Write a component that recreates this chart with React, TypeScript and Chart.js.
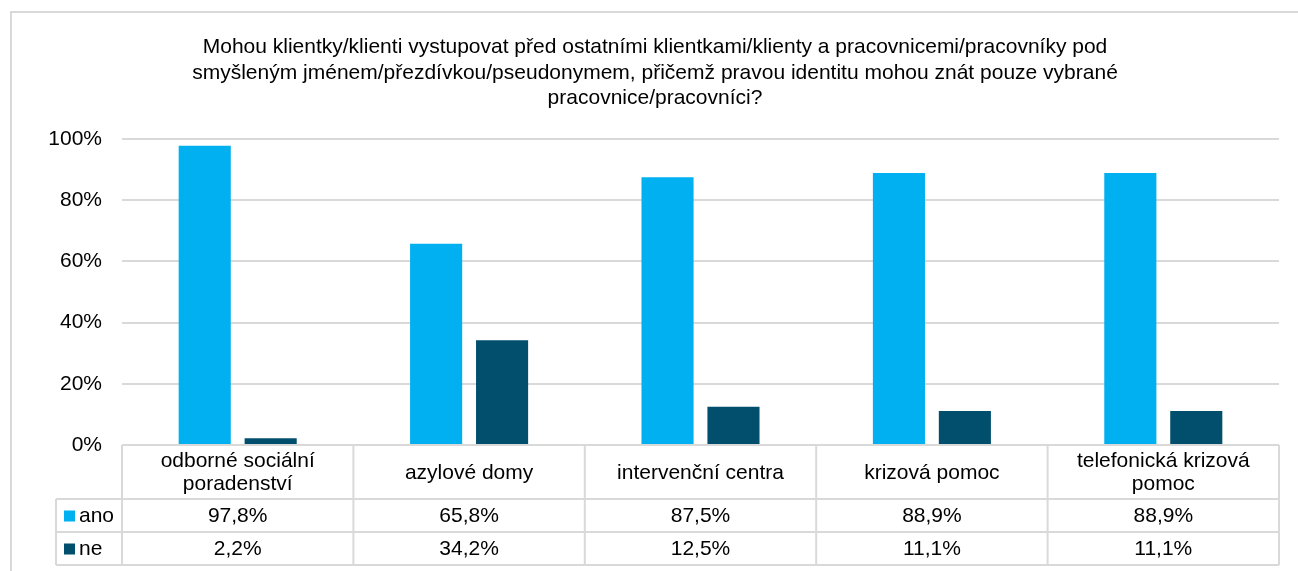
import React, { useEffect, useRef } from "react";
import { Chart, registerables } from "chart.js";

Chart.register(...registerables);

const titleLines = [
  "Mohou klientky/klienti vystupovat před ostatními klientkami/klienty a pracovnicemi/pracovníky pod",
  "smyšleným jménem/přezdívkou/pseudonymem, přičemž pravou identitu mohou znát pouze vybrané",
  "pracovnice/pracovníci?",
];

const categories = [
  ["odborné sociální", "poradenství"],
  ["azylové domy"],
  ["intervenční centra"],
  ["krizová pomoc"],
  ["telefonická krizová", "pomoc"],
];

const seriesNames = ["ano", "ne"];
const anoValues = [97.8, 65.8, 87.5, 88.9, 88.9];
const neValues = [2.2, 34.2, 12.5, 11.1, 11.1];
const seriesColors = ["#00B0F0", "#024F6D"];

const yTicks = [0, 20, 40, 60, 80, 100];

const FONT = "'Liberation Sans', Arial, sans-serif";
const FS = 21;
const GRID = "#d9d9d9";

const fmt = (v: number) => v.toFixed(1).replace(".", ",") + "%";

const tablePlugin = {
  id: "tablePlugin",
  beforeDraw(chart: any) {
    const ctx = chart.ctx;
    ctx.save();
    ctx.fillStyle = "#fff";
    ctx.fillRect(0, 0, chart.width, chart.height);
    // frame
    ctx.strokeStyle = GRID;
    ctx.lineWidth = 2;
    ctx.beginPath();
    ctx.moveTo(11, chart.height + 5);
    ctx.lineTo(11, 12);
    ctx.lineTo(chart.width + 5, 12);
    ctx.stroke();
    // title
    ctx.fillStyle = "#000";
    ctx.font = `${FS}px ${FONT}`;
    ctx.textAlign = "center";
    ctx.textBaseline = "alphabetic";
    titleLines.forEach((t, i) => {
      ctx.fillText(t, 655, 53 + i * 25.5);
    });
    ctx.restore();
  },
  afterDraw(chart: any) {
    const ctx = chart.ctx;
    const area = chart.chartArea;
    const xs = chart.scales.x;
    const n = categories.length;
    const left = area.left;
    const right = area.right;
    const colW = (right - left) / n;
    const top = area.bottom;
    const r1 = top + 54;
    const r2 = r1 + 33;
    const r3 = r2 + 33;
    const legLeft = 56;
    ctx.save();
    ctx.strokeStyle = GRID;
    ctx.lineWidth = 2;
    ctx.beginPath();
    ctx.moveTo(left, top);
    ctx.lineTo(right, top);
    [r1, r2, r3].forEach((y) => {
      ctx.moveTo(legLeft, y);
      ctx.lineTo(right, y);
    });
    for (let i = 0; i <= n; i++) {
      const x = left + i * colW;
      ctx.moveTo(x, top);
      ctx.lineTo(x, r3);
    }
    ctx.moveTo(legLeft, r1);
    ctx.lineTo(legLeft, r3);
    ctx.stroke();

    ctx.fillStyle = "#000";
    ctx.font = `${FS}px ${FONT}`;
    ctx.textAlign = "center";
    ctx.textBaseline = "middle";
    const catMid = (top + r1) / 2;
    categories.forEach((lines, i) => {
      const cx = xs.getPixelForValue(i);
      const lh = 23;
      const start = catMid - ((lines.length - 1) * lh) / 2;
      lines.forEach((l, j) => ctx.fillText(l, cx, start + j * lh + 1));
    });
    const rows = [anoValues, neValues];
    const rowMids = [(r1 + r2) / 2 + 1, (r2 + r3) / 2 + 1];
    rows.forEach((vals, ri) => {
      vals.forEach((v, i) => {
        ctx.fillText(fmt(v), xs.getPixelForValue(i), rowMids[ri]);
      });
      ctx.fillStyle = seriesColors[ri];
      ctx.fillRect(64, rowMids[ri] - 6, 11, 11);
      ctx.fillStyle = "#000";
      ctx.textAlign = "left";
      ctx.fillText(seriesNames[ri], 79, rowMids[ri]);
      ctx.textAlign = "center";
    });
    ctx.restore();
  },
};

export default function App() {
  const ref = useRef<HTMLCanvasElement>(null);
  useEffect(() => {
    if (!ref.current) return;
    const chart = new Chart(ref.current, {
      type: "bar",
      data: {
        labels: categories.map((c) => c.join(" ")),
        datasets: [
          {
            label: seriesNames[0],
            data: anoValues,
            backgroundColor: seriesColors[0],
            categoryPercentage: 0.57,
            barPercentage: 0.79,
          },
          {
            label: seriesNames[1],
            data: neValues,
            backgroundColor: seriesColors[1],
            categoryPercentage: 0.57,
            barPercentage: 0.79,
          },
        ],
      },
      options: {
        responsive: false,
        animation: false,
        layout: { padding: { top: 139, bottom: 126, left: 0, right: 19 } },
        plugins: {
          legend: { display: false },
          title: { display: false },
          tooltip: { enabled: false },
        },
        scales: {
          x: { display: false, offset: true },
          y: {
            min: 0,
            max: 100,
            afterFit: (s: any) => {
              s.width = 122;
            },
            afterBuildTicks: (s: any) => {
              s.ticks = yTicks.map((v) => ({ value: v }));
            },
            border: { display: false },
            grid: { color: GRID, lineWidth: 2, drawTicks: false },
            ticks: {
              padding: 20,
              color: "#000",
              font: { family: FONT, size: FS },
              callback: (v: any) => v + "%",
            },
          },
        },
      },
      plugins: [tablePlugin],
    });
    return () => chart.destroy();
  }, []);
  return (
    <div style={{ position: "fixed", left: 0, top: 0, width: 1298, height: 571 }}>
      <canvas ref={ref} width={1298} height={571} style={{ display: "block" }} />
    </div>
  );
}
